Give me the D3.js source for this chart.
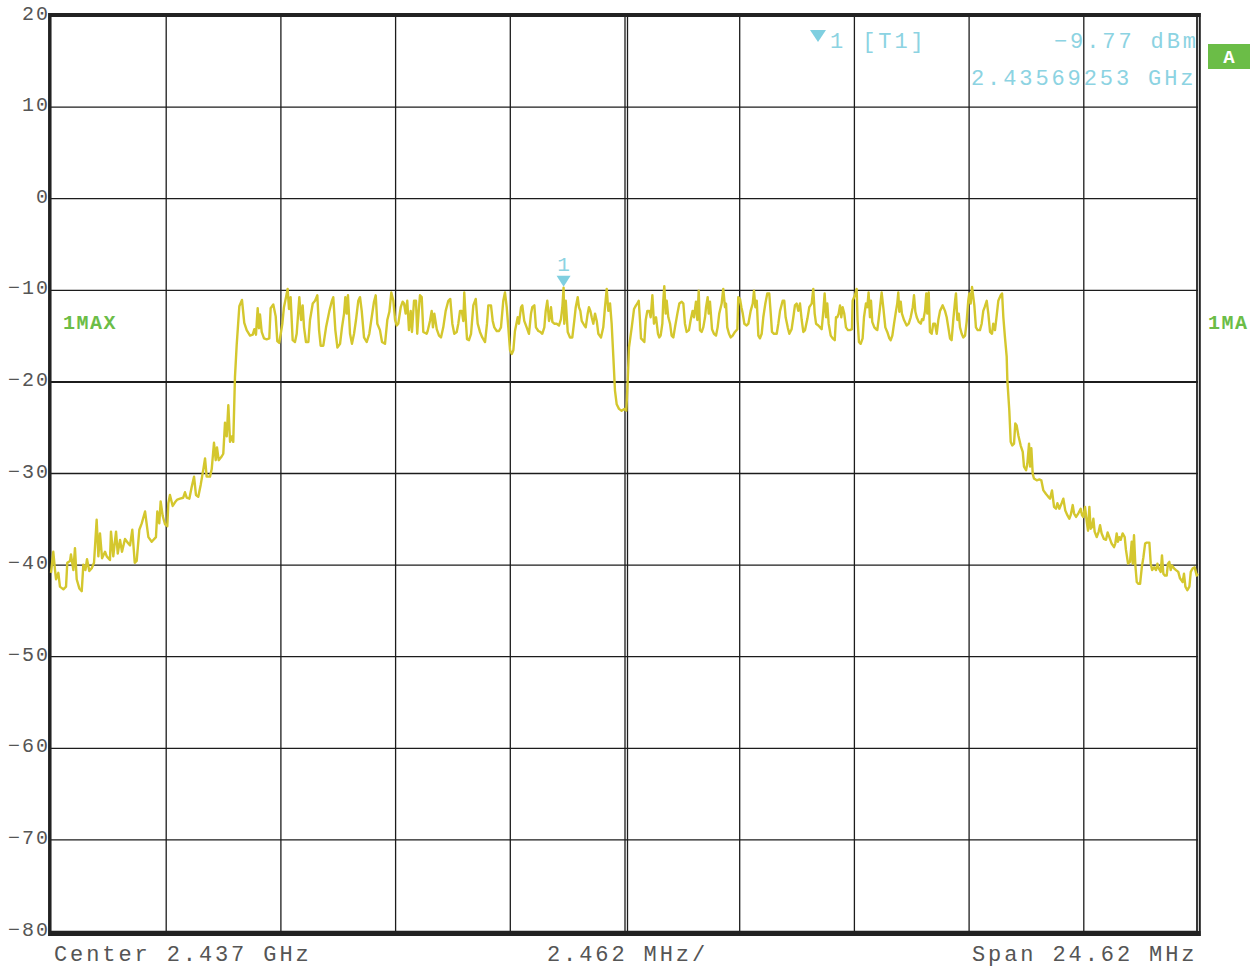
<!DOCTYPE html>
<html><head><meta charset="utf-8">
<script src="https://cdn.jsdelivr.net/npm/d3@7"></script>
<style>html,body{margin:0;padding:0;background:#fff;}svg{display:block}</style>
</head><body><svg id="chart" width="1256" height="973"></svg>
<script>
// ---- instrument settings ----
const centerGHz = 2.437;
const spanMHz = 24.62;
const perDivMHz = 2.462;
const refLevel = 20;
const bottomLevel = -80;
const yTickValues = [20, 10, 0, -10, -20, -30, -40, -50, -60, -70, -80];
const divisionTicks = [1, 2, 3, 4, 5, 6, 7, 8, 9];
const footerLabels = ["Center 2.437 GHz", "2.462 MHz/", "Span 24.62 MHz"];
const traceLabel = "1MAX";
const markerInfo = { id: "1", tag: "[T1]", freqGHz: 2.43569253, level: -9.77, levelText: "-9.77 dBm", freqText: "2.43569253 GHz" };

// ---- trace: [position in divisions from left edge, level dBm] ----
const lowerSkirt = [[0,-40.9],[0.02,-38.6],[0.035,-40.6],[0.044,-41.6],[0.064,-40.9],[0.078,-42.4],[0.108,-42.7],[0.131,-42.4],[0.142,-39.8],[0.166,-39.6],[0.174,-38.9],[0.195,-40.6],[0.209,-38.2],[0.224,-41.6],[0.247,-42.6],[0.268,-42.9],[0.282,-40.0],[0.3,-40.6],[0.314,-39.4],[0.334,-40.7],[0.355,-40.4],[0.375,-39.8],[0.398,-35.1],[0.413,-39.1],[0.427,-36.6],[0.445,-39.3],[0.471,-38.6],[0.486,-39.1],[0.514,-39.5],[0.523,-36.4],[0.543,-39.1],[0.567,-36.4],[0.582,-38.8],[0.602,-37.3],[0.619,-38.6],[0.645,-37.2],[0.674,-37.7],[0.689,-37.9],[0.709,-36.2],[0.73,-39.8],[0.747,-39.6],[0.77,-36.2],[0.791,-35.5],[0.82,-34.2],[0.849,-37.0],[0.878,-37.5],[0.915,-37.0],[0.927,-34.2],[0.944,-35.5],[0.956,-33.1],[0.974,-34.7],[0.994,-35.6],[1.014,-35.8],[1.023,-33.3],[1.037,-32.4],[1.061,-33.6],[1.081,-33.2],[1.101,-32.9],[1.125,-32.8],[1.153,-32.7],[1.168,-32.1],[1.183,-32.7],[1.206,-32.8],[1.227,-31.5],[1.247,-30.4],[1.264,-32.4],[1.284,-32.6],[1.305,-31.3],[1.328,-29.6],[1.343,-28.4],[1.357,-30.4],[1.386,-30.4],[1.401,-29.6],[1.421,-26.7],[1.436,-28.6],[1.447,-27.2],[1.462,-28.6],[1.488,-28.2],[1.502,-27.9],[1.517,-24.5],[1.532,-26.0],[1.546,-22.6],[1.561,-26.6],[1.576,-26.0],[1.589,-26.6],[1.604,-19.5],[1.619,-16.0]];

const lowerBand = [[1.642,-11.8],[1.665,-11.1],[1.685,-13.6],[1.706,-14.4],[1.735,-15.0],[1.759,-14.9],[1.773,-14.3],[1.787,-14.9],[1.802,-12.0],[1.813,-14.2],[1.822,-12.7],[1.837,-14.6],[1.857,-15.3],[1.88,-15.4],[1.903,-15.3],[1.915,-12.0],[1.938,-11.6],[1.959,-12.9],[1.973,-15.6],[1.99,-15.8],[2.017,-13.7],[2.031,-11.9],[2.049,-10.8],[2.063,-9.9],[2.075,-12.1],[2.089,-10.8],[2.107,-15.5],[2.127,-15.7],[2.142,-14.8],[2.165,-10.8],[2.18,-13.3],[2.194,-11.7],[2.206,-14.1],[2.223,-15.7],[2.244,-15.7],[2.258,-13.3],[2.282,-11.5],[2.302,-11.2],[2.322,-10.6],[2.337,-14.4],[2.351,-16.1],[2.374,-16.1],[2.398,-14.1],[2.427,-12.3],[2.447,-11.3],[2.461,-10.8],[2.479,-14.4],[2.497,-16.3],[2.52,-15.9],[2.537,-14.1],[2.555,-12.6],[2.566,-10.8],[2.578,-12.6],[2.589,-10.6],[2.607,-14.8],[2.624,-15.9],[2.642,-14.8],[2.659,-13.3],[2.679,-11.2],[2.694,-10.8],[2.709,-12.3],[2.729,-15.2],[2.752,-15.7],[2.775,-14.8],[2.796,-13.0],[2.816,-11.3],[2.831,-10.6],[2.845,-13.7],[2.868,-14.4],[2.886,-15.7],[2.912,-15.9],[2.932,-13.3],[2.95,-12.4],[2.967,-10.3],[2.985,-11.2],[3.0,-13.3],[3.014,-13.9],[3.028,-13.7],[3.049,-11.9],[3.066,-11.3],[3.078,-11.5],[3.092,-12.6],[3.106,-11.2],[3.121,-14.4],[3.136,-12.3],[3.147,-14.6],[3.165,-11.2],[3.182,-11.2],[3.193,-14.8],[3.206,-12.3],[3.217,-10.6],[3.232,-10.8],[3.246,-14.6],[3.275,-14.8],[3.284,-14.5],[3.304,-13.4],[3.319,-12.3],[3.33,-14.1],[3.342,-12.6],[3.363,-14.3],[3.383,-15.0],[3.4,-15.2],[3.42,-14.1],[3.441,-12.3],[3.464,-11.2],[3.481,-11.0],[3.499,-13.7],[3.516,-14.8],[3.537,-14.6],[3.551,-13.7],[3.566,-12.3],[3.581,-12.3],[3.595,-13.4],[3.603,-10.3],[3.615,-13.0],[3.627,-15.4],[3.644,-15.5],[3.662,-14.8],[3.682,-11.7],[3.703,-11.0],[3.72,-13.7],[3.74,-14.6],[3.76,-15.2],[3.784,-15.7],[3.801,-13.7],[3.813,-11.7],[3.836,-11.7],[3.851,-13.4],[3.865,-14.1],[3.886,-14.5],[3.906,-14.5],[3.923,-14.1],[3.943,-11.2],[3.958,-10.3],[3.973,-11.9],[3.987,-14.1],[4.002,-16.6],[4.017,-17.0],[4.031,-16.6],[4.045,-14.5],[4.069,-13.0],[4.08,-13.7],[4.098,-11.9],[4.109,-11.7],[4.126,-13.4],[4.147,-14.1],[4.167,-14.8],[4.185,-12.6],[4.196,-11.9],[4.214,-11.7],[4.228,-14.1],[4.249,-14.5],[4.266,-14.6],[4.283,-14.8],[4.301,-14.1],[4.313,-12.3],[4.327,-11.2],[4.342,-13.4],[4.35,-13.0],[4.359,-11.9],[4.371,-13.5],[4.388,-13.7],[4.409,-13.7],[4.429,-13.9],[4.446,-13.2],[4.458,-11.9],[4.469,-9.77],[4.475,-13.7],[4.488,-11.2],[4.505,-14.6],[4.525,-15.2],[4.545,-15.2],[4.562,-13.4],[4.575,-11.9],[4.592,-10.8],[4.603,-11.9],[4.615,-12.3],[4.627,-13.4],[4.65,-13.9],[4.662,-14.1],[4.679,-12.6],[4.69,-11.9],[4.702,-12.3],[4.714,-13.0],[4.728,-13.7],[4.743,-12.6],[4.758,-13.4],[4.772,-14.8],[4.795,-15.2],[4.815,-14.1],[4.83,-11.9],[4.845,-9.9],[4.859,-12.3],[4.874,-11.5],[4.888,-13.7],[4.903,-17.4],[4.917,-21.0],[4.932,-22.5],[4.952,-23.0],[4.975,-23.2],[4.998,-23.0],[5.016,-23.2],[5.028,-19.9],[5.039,-16.3]];

const upperBand = [[5.063,-14.1],[5.083,-12.1],[5.1,-11.7],[5.112,-11.5],[5.124,-11.2],[5.135,-13.3],[5.144,-15.3],[5.159,-15.5],[5.173,-15.7],[5.185,-13.3],[5.199,-12.3],[5.216,-12.3],[5.228,-13.0],[5.243,-10.6],[5.257,-13.7],[5.275,-13.0],[5.292,-14.8],[5.303,-15.2],[5.315,-15.0],[5.33,-13.7],[5.338,-11.2],[5.347,-9.6],[5.359,-12.6],[5.368,-11.2],[5.382,-13.0],[5.397,-13.7],[5.411,-15.0],[5.426,-15.2],[5.44,-14.1],[5.461,-12.6],[5.478,-11.5],[5.499,-11.3],[5.513,-11.5],[5.527,-13.7],[5.542,-14.6],[5.562,-14.4],[5.577,-13.3],[5.594,-12.3],[5.606,-13.0],[5.623,-11.3],[5.635,-13.3],[5.647,-10.1],[5.658,-14.4],[5.673,-14.6],[5.687,-14.1],[5.702,-13.0],[5.711,-11.9],[5.725,-10.8],[5.734,-12.6],[5.745,-11.3],[5.763,-14.3],[5.78,-14.8],[5.798,-15.0],[5.812,-14.1],[5.826,-12.6],[5.847,-11.5],[5.861,-9.9],[5.876,-11.9],[5.885,-11.5],[5.896,-14.1],[5.911,-14.8],[5.926,-15.2],[5.943,-15.0],[5.963,-14.6],[5.984,-14.3],[5.992,-10.8],[6.007,-11.0],[6.019,-11.9],[6.031,-12.6],[6.045,-13.7],[6.065,-13.9],[6.08,-13.7],[6.1,-12.3],[6.118,-11.5],[6.129,-10.1],[6.141,-11.9],[6.153,-11.2],[6.167,-15.0],[6.181,-15.3],[6.196,-14.8],[6.21,-13.0],[6.228,-11.5],[6.245,-10.4],[6.262,-10.4],[6.275,-12.6],[6.286,-14.6],[6.303,-14.8],[6.327,-14.8],[6.341,-13.7],[6.356,-12.3],[6.379,-11.2],[6.393,-11.2],[6.405,-13.0],[6.423,-14.1],[6.437,-14.8],[6.457,-14.3],[6.472,-13.0],[6.486,-11.7],[6.501,-11.5],[6.515,-12.3],[6.53,-11.5],[6.545,-13.3],[6.559,-14.6],[6.574,-14.4],[6.594,-13.2],[6.611,-11.9],[6.632,-11.5],[6.646,-9.9],[6.658,-12.6],[6.67,-13.7],[6.69,-13.9],[6.705,-14.1],[6.719,-14.3],[6.733,-12.4],[6.745,-10.4],[6.757,-13.0],[6.768,-11.5],[6.78,-13.7],[6.798,-15.0],[6.815,-15.3],[6.833,-15.5],[6.844,-13.0],[6.855,-13.0],[6.867,-12.6],[6.879,-11.7],[6.89,-13.0],[6.902,-11.9],[6.916,-12.6],[6.931,-14.1],[6.948,-14.4],[6.966,-14.4],[6.983,-14.3],[6.989,-11.2],[7.009,-10.6],[7.024,-9.9],[7.032,-13.3],[7.044,-15.7],[7.059,-15.9],[7.076,-15.3],[7.088,-13.0],[7.105,-11.5],[7.117,-11.9],[7.128,-10.3],[7.14,-13.0],[7.149,-11.2],[7.16,-13.5],[7.178,-14.1],[7.193,-14.3],[7.204,-14.4],[7.216,-13.2],[7.228,-11.9],[7.242,-10.3],[7.256,-11.9],[7.274,-14.1],[7.291,-14.6],[7.309,-15.3],[7.321,-15.5],[7.335,-15.0],[7.35,-13.7],[7.367,-12.3],[7.378,-11.5],[7.387,-10.3],[7.396,-12.4],[7.408,-11.3],[7.419,-12.6],[7.437,-13.3],[7.46,-13.9],[7.478,-13.7],[7.495,-13.0],[7.513,-11.9],[7.524,-10.6],[7.536,-12.4],[7.548,-13.0],[7.565,-13.5],[7.583,-13.7],[7.594,-13.2],[7.605,-13.3],[7.62,-12.3],[7.631,-10.4],[7.64,-12.6],[7.652,-10.3],[7.663,-14.6],[7.678,-14.8],[7.692,-13.7],[7.707,-13.7],[7.722,-14.8],[7.736,-13.3],[7.751,-12.3],[7.774,-11.7],[7.794,-12.3],[7.809,-13.0],[7.823,-14.1],[7.838,-15.3],[7.852,-15.5],[7.867,-13.2],[7.882,-11.2],[7.89,-10.4],[7.902,-13.3],[7.914,-12.6],[7.925,-14.1],[7.94,-14.8],[7.954,-15.2],[7.969,-15.0],[7.983,-13.5],[7.997,-11.2],[8.006,-10.4],[8.018,-11.5],[8.03,-9.7],[8.041,-10.8],[8.05,-11.7],[8.064,-14.1],[8.079,-14.4],[8.099,-14.4],[8.114,-13.7],[8.128,-12.3],[8.14,-11.9],[8.158,-11.2],[8.172,-12.6],[8.187,-14.6],[8.204,-14.8],[8.215,-13.7],[8.23,-14.4],[8.245,-12.8],[8.259,-11.2],[8.28,-10.6],[8.292,-10.4],[8.303,-13.0],[8.317,-15.2],[8.332,-17.3]];

const upperSkirt = [[8.338,-19.9],[8.355,-23.2],[8.367,-26.6],[8.381,-27.0],[8.396,-26.8],[8.407,-24.6],[8.419,-24.8],[8.434,-25.9],[8.454,-27.0],[8.472,-27.7],[8.483,-29.3],[8.501,-29.7],[8.512,-29.0],[8.527,-26.8],[8.536,-29.3],[8.547,-27.3],[8.559,-30.1],[8.57,-30.6],[8.594,-30.8],[8.617,-30.7],[8.634,-30.8],[8.652,-31.9],[8.675,-32.3],[8.695,-32.6],[8.71,-32.8],[8.727,-31.9],[8.745,-33.7],[8.762,-33.9],[8.774,-33.3],[8.791,-33.9],[8.811,-33.3],[8.826,-32.8],[8.843,-34.1],[8.861,-34.6],[8.878,-35.0],[8.89,-34.6],[8.908,-33.5],[8.919,-34.4],[8.937,-34.8],[8.957,-34.4],[8.977,-33.9],[8.989,-34.6],[9.0,-34.8],[9.015,-33.7],[9.03,-35.3],[9.041,-36.3],[9.053,-33.7],[9.064,-36.1],[9.076,-35.9],[9.088,-35.0],[9.099,-36.4],[9.117,-37.0],[9.134,-36.4],[9.146,-35.7],[9.16,-36.6],[9.18,-37.2],[9.198,-37.3],[9.212,-36.5],[9.227,-37.0],[9.247,-37.7],[9.268,-38.1],[9.279,-37.7],[9.291,-36.6],[9.302,-37.5],[9.314,-37.0],[9.326,-37.3],[9.343,-36.6],[9.361,-37.0],[9.372,-38.4],[9.39,-39.9],[9.407,-39.7],[9.422,-37.5],[9.431,-39.9],[9.442,-36.8],[9.454,-40.1],[9.466,-41.9],[9.481,-42.1],[9.495,-42.1],[9.51,-40.3],[9.524,-39.2],[9.539,-37.7],[9.553,-37.6],[9.576,-37.6],[9.588,-39.9],[9.6,-40.6],[9.617,-40.3],[9.634,-40.6],[9.646,-39.9],[9.657,-40.4],[9.675,-40.8],[9.686,-39.0],[9.698,-41.0],[9.712,-41.2],[9.727,-41.2],[9.738,-39.9],[9.75,-39.7],[9.762,-40.6],[9.773,-40.1],[9.791,-40.4],[9.808,-40.6],[9.828,-40.8],[9.843,-41.5],[9.855,-41.7],[9.866,-41.9],[9.878,-41.0],[9.89,-42.4],[9.907,-42.8],[9.925,-42.4],[9.937,-40.8],[9.954,-40.4],[9.971,-40.3],[9.989,-41.2],[10,-41.0]];

// ---- drawing ----
const W = 1256, H = 973;
const plot = { left: 51, right: 1198, top: 15, bottom: 931 };
const FONT = "'Liberation Mono','DejaVu Sans Mono',monospace";
const GRID = "#1c1c1c";
const TRACE = "#d4c72e";
const BLUE = "#8cd3e2";
const GREEN = "#6bbd47";

const startGHz = centerGHz - spanMHz / 2000;
const divToGHz = d => startGHz + d * perDivMHz / 1000;
const x = d3.scaleLinear().domain([startGHz, centerGHz + spanMHz / 2000]).range([plot.left, plot.right]);
const y = d3.scaleLinear().domain([bottomLevel, refLevel]).range([plot.bottom, plot.top]);

const svg = d3.select("#chart");
svg.append("rect").attr("width", W).attr("height", H).attr("fill", "#fff");

// horizontal grid + level labels
const yAxis = d3.axisLeft(y).tickValues(yTickValues).tickSize(-(plot.right - plot.left)).tickPadding(0).tickFormat(d3.format("d"));
const gy = svg.append("g").attr("transform", `translate(${plot.left},0)`).call(yAxis);
gy.select(".domain").remove();
gy.selectAll(".tick line").attr("stroke", GRID).attr("stroke-width", d => d === -20 ? 2 : 1.3);
gy.selectAll(".tick text")
  .attr("fill", "#555").attr("font-family", FONT).attr("font-size", 20)
  .attr("letter-spacing", 2).attr("dy", "0.2em").attr("x", -1)
  .text(d => d < 0 ? "\u2212" + Math.abs(d) : String(d));

// vertical grid (divisions)
const xAxis = d3.axisBottom(x).tickValues(divisionTicks.map(divToGHz)).tickSize(-(plot.bottom - plot.top)).tickFormat("");
const gx = svg.append("g").attr("transform", `translate(0,${plot.bottom})`).call(xAxis);
gx.select(".domain").remove();
gx.selectAll(".tick line").attr("stroke", GRID).attr("stroke-width", 1.3);
// center line is double
svg.append("line").attr("x1", x(centerGHz) + 3).attr("x2", x(centerGHz) + 3)
  .attr("y1", plot.top).attr("y2", plot.bottom).attr("stroke", GRID).attr("stroke-width", 1.3);

// frame
const frame = svg.append("g").attr("stroke", "#222");
frame.append("line").attr("x1", plot.left - 2).attr("x2", plot.right + 2.5).attr("y1", plot.top).attr("y2", plot.top).attr("stroke-width", 4);
frame.append("line").attr("x1", plot.left - 2).attr("x2", plot.right + 2.5).attr("y1", plot.bottom + 2.5).attr("y2", plot.bottom + 2.5).attr("stroke-width", 5);
frame.append("line").attr("x1", plot.left - 1.2).attr("x2", plot.left - 1.2).attr("y1", plot.top - 2).attr("y2", plot.bottom + 5).attr("stroke-width", 3.5);
frame.append("line").attr("x1", plot.right - 1).attr("x2", plot.right - 1).attr("y1", plot.top - 2).attr("y2", plot.bottom + 5).attr("stroke-width", 1.8);
frame.append("line").attr("x1", plot.right + 1.8).attr("x2", plot.right + 1.8).attr("y1", plot.top - 2).attr("y2", plot.bottom + 5).attr("stroke-width", 2);

// trace
const trace = [...lowerSkirt, ...lowerBand, ...upperBand, ...upperSkirt];
const line = d3.line().x(d => x(divToGHz(d[0]))).y(d => y(d[1]));
svg.append("path").datum(trace).attr("d", line)
  .attr("fill", "none").attr("stroke", TRACE).attr("stroke-width", 2.4)
  .attr("stroke-linejoin", "round");

// marker on trace
const mx = x(markerInfo.freqGHz), my = y(markerInfo.level);
svg.append("path").attr("d", `M${mx - 7},${my - 12} L${mx + 7},${my - 12} L${mx},${my - 1} Z`).attr("fill", "#7fcfe0");
svg.append("text").attr("x", mx).attr("y", my - 17).attr("text-anchor", "middle")
  .attr("font-family", FONT).attr("font-size", 21).attr("fill", BLUE).text(markerInfo.id);

// marker readout
svg.append("path").attr("d", "M810,30 L826,30 L818,42 Z").attr("fill", "#7fcfe0");
const ro = svg.append("g").attr("font-family", FONT).attr("font-size", 22).attr("fill", BLUE).attr("letter-spacing", 2.9);
ro.append("text").attr("x", 830).attr("y", 48).text(markerInfo.id + " " + markerInfo.tag);
ro.append("text").attr("x", 1054).attr("y", 48).text(markerInfo.levelText.replace("-", "\u2212"));
ro.append("text").attr("x", 971).attr("y", 85).text(markerInfo.freqText);

// A box
svg.append("rect").attr("x", 1208).attr("y", 44).attr("width", 42).attr("height", 25).attr("fill", GREEN);
svg.append("text").attr("x", 1229).attr("y", 63).attr("text-anchor", "middle")
  .attr("font-family", FONT).attr("font-weight", "bold").attr("font-size", 19).attr("fill", "#fff").text("A");

// trace labels
const tl = svg.append("g").attr("font-family", FONT).attr("font-weight", "bold").attr("font-size", 20).attr("fill", GREEN).attr("letter-spacing", 1.5);
tl.append("text").attr("x", 63).attr("y", 329).text(traceLabel);
tl.append("text").attr("x", 1208).attr("y", 329).text(traceLabel.slice(0, 3));

// footer
const ft = svg.append("g").attr("font-family", FONT).attr("font-size", 22).attr("fill", "#555").attr("letter-spacing", 2.9);
const footerX = [54, 547, 972];
footerLabels.forEach((t, i) => ft.append("text").attr("x", footerX[i]).attr("y", 961).text(t));
</script>
</body></html>
